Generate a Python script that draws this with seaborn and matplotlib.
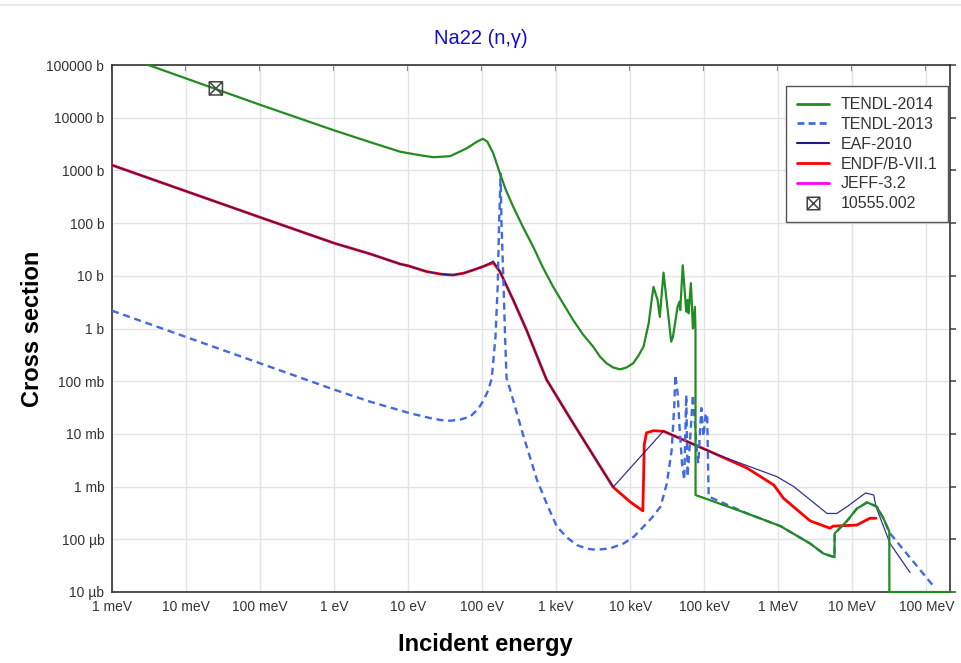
import numpy as np
import pandas as pd
import matplotlib
matplotlib.use("Agg")
import matplotlib.pyplot as plt
from matplotlib.path import Path
from matplotlib.lines import Line2D
import seaborn as sns

# ---- evaluated data: log10(energy / eV) and log10(cross section / barn) ----
tendl14_log_e = [-2.51, -1.0, 0.0, 0.5, 0.892, 1.15, 1.342, 1.568, 1.793, 1.93, 2.01, 2.07,
                 2.15, 2.24, 2.32, 2.42, 2.55, 2.69, 2.82, 2.96, 3.10, 3.23, 3.36, 3.50, 3.59,
                 3.68, 3.77, 3.865, 3.95, 4.04, 4.11, 4.18, 4.25, 4.29, 4.315,
                 4.37, 4.40, 4.45, 4.554, 4.577, 4.64, 4.666, 4.676, 4.71, 4.757, 4.775,
                 4.788, 4.82, 4.847, 4.874, 4.882, 4.883, 5.58, 6.03, 6.43, 6.61, 6.76,
                 6.761, 6.93, 7.06, 7.20, 7.33, 7.42, 7.50, 7.501, 8.32]
tendl14_log_xs = [5.0, 4.245, 3.76, 3.53, 3.355, 3.29, 3.25, 3.27, 3.42, 3.545, 3.60, 3.545,
                  3.325, 2.945, 2.63, 2.31, 1.93, 1.55, 1.16, 0.79, 0.46, 0.16, -0.11, -0.345, -0.53,
                  -0.66, -0.74, -0.775, -0.74, -0.66, -0.52, -0.345, 0.10, 0.54, 0.79,
                  0.54, 0.22, 1.06, -0.25, -0.16, 0.41, 0.51, 0.35, 1.20, 0.32, 0.54,
                  0.29, 0.86, 0.0, 0.41, -0.03, -3.16, -3.51, -3.75, -4.08, -4.27, -4.34,
                  -3.89, -3.65, -3.42, -3.30, -3.38, -3.60, -3.85, -5.0, -5.0]

tendl13_log_e = [-3.0, -1.0, 0.0, 0.49, 1.03, 1.3, 1.45, 1.57, 1.70, 1.84, 1.95, 2.02, 2.08,
                 2.13, 2.18, 2.21, 2.23, 2.25, 2.26, 2.29, 2.31, 2.33, 2.38, 2.56, 2.74, 2.88,
                 3.01, 3.15, 3.28, 3.42, 3.55, 3.73, 3.91, 4.05, 4.18, 4.30,
                 4.41, 4.495, 4.56, 4.595, 4.61, 4.64, 4.666, 4.70, 4.73, 4.757, 4.775,
                 4.80, 4.847, 4.90, 4.92, 4.96, 4.99, 5.02, 5.04, 5.06, 5.58, 6.03, 6.43,
                 6.61, 6.76, 6.761, 6.93, 7.06, 7.20, 7.33, 7.42, 7.50, 8.08]
tendl13_log_xs = [0.338, -0.66, -1.16, -1.39, -1.61, -1.70, -1.74, -1.75, -1.73, -1.67, -1.52, -1.36, -1.18,
                  -0.945, -0.16, 0.79, 2.06, 2.94, 2.06, 0.79, -0.16, -0.945, -1.17, -2.05, -2.87, -3.35,
                  -3.76, -3.97, -4.11, -4.18, -4.20, -4.17, -4.08, -3.95, -3.76, -3.58,
                  -3.38, -2.94, -2.31, -1.48, -0.88, -1.22, -1.86, -2.56, -2.87, -1.26, -2.81,
                  -2.31, -1.26, -2.31, -2.56, -1.51, -2.05, -1.61, -1.64, -3.19, -3.51, -3.75, -4.08,
                  -4.27, -4.34, -3.89, -3.65, -3.42, -3.30, -3.38, -3.60, -3.87, -4.86]

eaf_log_e = [-3.0, -1.0, 0.0, 0.5, 0.892, 1.0, 1.25, 1.45, 1.61, 1.75, 1.88, 2.02, 2.15,
             2.24, 2.42, 2.60, 2.78, 2.87, 3.0, 3.2, 3.4, 3.6, 3.77, 4.45, 5.13, 5.98, 6.21,
             6.66, 6.79, 6.93, 7.18, 7.29, 7.32, 7.51, 7.78]
eaf_log_xs = [3.10, 2.11, 1.62, 1.41, 1.224, 1.19, 1.08, 1.03, 1.015, 1.05, 1.11, 1.18, 1.28,
              1.08, 0.54, -0.03, -0.66, -0.97, -1.27, -1.73, -2.18, -2.63, -3.01, -1.945, -2.37, -2.81, -3.0,
              -3.51, -3.51, -3.38, -3.12, -3.16, -3.38, -4.08, -4.63]

endf_log_e = [-3.0, -1.0, 0.0, 0.5, 0.892, 1.0, 1.25, 1.45, 1.61, 1.75, 1.88, 2.02, 2.15,
              2.24, 2.42, 2.60, 2.78, 2.87, 3.0, 3.2, 3.4, 3.6, 3.77, 4.0, 4.17, 4.18, 4.19,
              4.22, 4.31, 4.45, 5.04, 5.58, 5.94, 6.07, 6.43, 6.70, 6.74, 7.06, 7.24, 7.32]
endf_log_xs = [3.10, 2.11, 1.62, 1.41, 1.224, 1.19, 1.08, 1.03, 1.015, 1.05, 1.11, 1.18, 1.25,
               1.08, 0.54, -0.03, -0.66, -0.97, -1.27, -1.73, -2.18, -2.63, -3.01, -3.29, -3.46, -2.9, -2.2,
               -1.98, -1.94, -1.95, -2.31, -2.65, -2.97, -3.22, -3.65, -3.79, -3.75, -3.73, -3.60, -3.60]

# ---- measured point (EXFOR 10555.002) ----
exp_energy = [0.0253]      # eV
exp_xs = [3.6e4]           # barn

series_names = ["TENDL-2014", "TENDL-2013", "EAF-2010", "ENDF/B-VII.1", "JEFF-3.2"]
series_colors = ["#228B22", "#4169E1", "#1c1c88", "#ff0000", "#ff00ff"]

x_tick_values = [1e-3, 1e-2, 1e-1, 1e0, 1e1, 1e2, 1e3, 1e4, 1e5, 1e6, 1e7, 1e8]
x_tick_labels = ["1 meV", "10 meV", "100 meV", "1 eV", "10 eV", "100 eV", "1 keV",
                 "10 keV", "100 keV", "1 MeV", "10 MeV", "100 MeV"]
y_tick_values = [1e-5, 1e-4, 1e-3, 1e-2, 1e-1, 1e0, 1e1, 1e2, 1e3, 1e4, 1e5]
y_tick_labels = ["10 µb", "100 µb", "1 mb", "10 mb", "100 mb", "1 b", "10 b", "100 b",
                 "1000 b", "10000 b", "100000 b"]


def frame(log_e, log_xs, name):
    return pd.DataFrame({"energy": np.power(10.0, log_e),
                         "xs": np.power(10.0, log_xs),
                         "library": name})


sns.set_theme(style="white")
plt.rcParams["font.family"] = ["Liberation Sans", "DejaVu Sans"]

fig = plt.figure(figsize=(9.61, 6.63), dpi=100)
ax = fig.add_axes([112 / 961, 1 - 592 / 663, (950 - 112) / 961, (592 - 65) / 663])
ax.set_xscale("log")
ax.set_yscale("log")

# drawn back to front: JEFF, ENDF, EAF, TENDL-2013, TENDL-2014
ax.plot([], [], color=series_colors[4], lw=2.0)  # JEFF-3.2 entry
sns.lineplot(data=frame(endf_log_e, endf_log_xs, "ENDF/B-VII.1"), x="energy", y="xs",
             ax=ax, sort=False, estimator=None, color=series_colors[3], lw=2.0, zorder=3)
sns.lineplot(data=frame(eaf_log_e, eaf_log_xs, "EAF-2010"), x="energy", y="xs",
             ax=ax, sort=False, estimator=None, color=series_colors[2], lw=0.9, alpha=0.9, zorder=4)
sns.lineplot(data=frame(tendl13_log_e, tendl13_log_xs, "TENDL-2013"), x="energy", y="xs",
             ax=ax, sort=False, estimator=None, color=series_colors[1], lw=1.7,
             linestyle=(0, (3, 2)), zorder=5)
sns.lineplot(data=frame(tendl14_log_e, tendl14_log_xs, "TENDL-2014"), x="energy", y="xs",
             ax=ax, sort=False, estimator=None, color=series_colors[0], lw=1.6, zorder=6,
             clip_on=False)

# boxed-cross marker for the measurement
box_x = Path([(-1, -1), (1, -1), (1, 1), (-1, 1), (-1, -1), (-1, -1), (1, 1), (-1, 1), (1, -1)],
             [Path.MOVETO, Path.LINETO, Path.LINETO, Path.LINETO, Path.CLOSEPOLY,
              Path.MOVETO, Path.LINETO, Path.MOVETO, Path.LINETO])
sns.scatterplot(x=exp_energy, y=exp_xs, ax=ax, marker=box_x, s=90, facecolor="none",
                edgecolor="#444444", linewidth=1.1, zorder=7)

ax.set_xlim(1e-3, 10 ** 8.32)
ax.set_ylim(1e-5, 1e5)
ax.set_xticks(x_tick_values)
ax.set_xticklabels(x_tick_labels)
ax.set_yticks(y_tick_values)
ax.set_yticklabels(y_tick_labels)
ax.minorticks_off()
ax.grid(True, which="major", color="#e3e3e3", lw=1.0)
ax.set_axisbelow(True)

for side in ["left", "bottom", "top", "right"]:
    ax.spines[side].set_color("#333333")
    ax.spines[side].set_linewidth(1.2)
ax.tick_params(axis="both", which="major", direction="inout", length=9, width=1,
               color="#333333", labelsize=10, labelcolor="#333333", pad=1)

top = ax.secondary_xaxis("top")
top.set_xticks(x_tick_values)
top.tick_params(direction="in", length=4, color="#555555", labeltop=False)
top.spines["top"].set_visible(False)
right = ax.secondary_yaxis("right")
right.set_yticks(y_tick_values)
right.tick_params(direction="out", length=4, color="#555555", labelright=False)
right.spines["right"].set_visible(False)
top.minorticks_off()
right.minorticks_off()

ax.set_xlabel("Incident energy", fontsize=17, fontweight="bold", labelpad=14, color="black")
ax.xaxis.label.set_x((485 - 112) / 838)
ax.set_ylabel("Cross section", fontsize=17, fontweight="bold", labelpad=2, color="black")
fig.text(0.5, 1 - 38 / 663, "Na22 (n,γ)", ha="center", va="center", fontsize=14.5, color="#1010cc")
fig.add_artist(Line2D([0, 1], [1 - 5 / 663, 1 - 5 / 663], color="#e8e8e8", lw=1.5,
                      transform=fig.transFigure))

handles = [Line2D([], [], color=series_colors[0], lw=2),
           Line2D([], [], color=series_colors[1], lw=2, linestyle=(0, (2.5, 1.5))),
           Line2D([], [], color=series_colors[2], lw=1.5),
           Line2D([], [], color=series_colors[3], lw=2),
           Line2D([], [], color=series_colors[4], lw=2),
           Line2D([], [], linestyle="none", marker=box_x, markersize=9, markerfacecolor="none",
                  markeredgecolor="#444444", markeredgewidth=1.1)]
leg = ax.legend(handles, series_names + ["10555.002"], loc="upper right",
                bbox_to_anchor=(0.998, 0.96), borderaxespad=0, fontsize=11.5, frameon=True,
                fancybox=False, framealpha=1, edgecolor="#555555", handlelength=2.0,
                labelspacing=0.3, borderpad=0.7, handletextpad=0.7)
leg.get_frame().set_linewidth(1.0)
for t in leg.get_texts():
    t.set_color("#333333")

fig.savefig("out.png", dpi=100)
